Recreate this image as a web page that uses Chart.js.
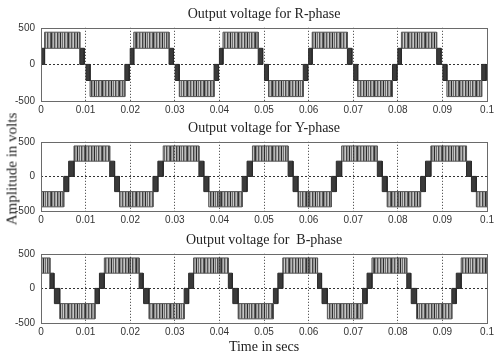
<!DOCTYPE html>
<html>
<head>
<meta charset="utf-8">
<script src="https://cdn.jsdelivr.net/npm/chart.js@4.4.0/dist/chart.umd.min.js"></script>
<style>
  body { margin: 0; background: #fff; }
  #wrap { position: relative; width: 497px; height: 356px; overflow: hidden; }
  #wrap canvas { position: absolute; left: 0; }
  #ylab {
    position: absolute; left: 12px; top: 169px;
    transform: translate(-50%, -50%) rotate(-90deg);
    font: 15px "Liberation Serif", serif; color: #222; white-space: nowrap;
  }
</style>
</head>
<body>
<div id="wrap">
  <canvas id="rChart" width="497" height="121" style="top:0"></canvas>
  <canvas id="yChart" width="497" height="117" style="top:114px"></canvas>
  <canvas id="bChart" width="497" height="130" style="top:226px"></canvas>
  <div id="ylab">Amplitude in volts</div>
</div>
<script>
const xTickLabels = ['0', '0.01', '0.02', '0.03', '0.04', '0.05', '0.06', '0.07', '0.08', '0.09', '0.1'];
const yTickLabels = ['-500', '0', '500'];

// the waveform repeats every 20 ms (50 Hz); one period is listed per phase
const periodStarts = [0, 0.02, 0.04, 0.06, 0.08];

// R-phase: segment start/end (s) and the two levels (V) switched between
const rStart = [0.0000, 0.0008, 0.0087, 0.0101, 0.0110, 0.0188];
const rEnd   = [0.0008, 0.0087, 0.0097, 0.0110, 0.0188, 0.0198];
const rLow   = [0, 220, 0, -220, -440, -220];
const rHigh  = [220, 440, 220, 0, -220, 0];

// Y-phase
const yStart = [0.0000, 0.0051, 0.0062, 0.0074, 0.0154, 0.0165, 0.0176];
const yEnd   = [0.0051, 0.0062, 0.0074, 0.0154, 0.0165, 0.0176, 0.0200];
const yLow   = [-440, -220, 0, 220, 0, -220, -440];
const yHigh  = [-220, 0, 220, 440, 220, 0, -220];

// B-phase
const bStart = [0.0000, 0.0020, 0.0030, 0.0042, 0.0121, 0.0131, 0.0142];
const bEnd   = [0.0020, 0.0029, 0.0042, 0.0121, 0.0131, 0.0142, 0.0200];
const bLow   = [220, 0, -220, -440, -220, 0, 220];
const bHigh  = [440, 220, 0, -220, 0, 220, 440];

// texture for the PWM bands (irregular vertical stripes)
const stripeShades = ['#333333', '#8a8a8a', '#b4b4b4', '#555555', '#9c9c9c', '#c6c6c6', '#444444', '#909090',
  '#a8a8a8', '#2c2c2c', '#b8b8b8', '#6e6e6e', '#cccccc', '#4c4c4c', '#969696', '#bababa', '#5e5e5e'];

function makeStripes() {
  const c = document.createElement('canvas');
  c.width = stripeShades.length;
  c.height = 4;
  const g = c.getContext('2d');
  stripeShades.forEach((col, i) => {
    g.fillStyle = col;
    g.fillRect(i, 0, 1, 4);
  });
  return g.createPattern(c, 'repeat');
}
const stripes = makeStripes();

function buildDatasets(start, end, low, high) {
  const sets = [];
  periodStarts.forEach(p => {
    start.forEach((s, i) => {
      const t0 = p + s, t1 = p + end[i];
      const lo = low[i], hi = high[i];
      const pwm = Math.min(Math.abs(lo), Math.abs(hi)) > 0;
      sets.push({
        data: [{x: t0, y: lo}, {x: t0, y: hi}, {x: t1, y: hi}, {x: t1, y: lo}, {x: t0, y: lo}],
        fill: 'shape',
        backgroundColor: pwm ? stripes : '#3a3a3a',
        borderColor: pwm ? '#555555' : '#2a2a2a',
        borderWidth: 1,
        pointRadius: 0,
        tension: 0
      });
    });
  });
  return sets;
}

const frame = {
  id: 'frame',
  afterDraw(chart) {
    const a = chart.chartArea, ctx = chart.ctx;
    ctx.save();
    ctx.strokeStyle = '#6a6a6a';
    ctx.lineWidth = 1;
    ctx.strokeRect(Math.round(a.left) + 0.5, Math.round(a.top) + 0.5,
      Math.round(a.right - a.left), Math.round(a.bottom - a.top));
    ctx.restore();
  }
};

const serif = 'Liberation Serif';
const sans = 'Liberation Sans';

function makeChart(id, title, datasets, xHeight, xTitle) {
  return new Chart(document.getElementById(id), {
    type: 'line',
    data: { datasets: datasets },
    options: {
      responsive: false,
      animation: false,
      layout: { padding: { right: 9 } },
      plugins: {
        legend: { display: false },
        tooltip: { enabled: false },
        title: {
          display: true,
          text: title,
          fullSize: false,
          color: '#222',
          font: { family: serif, size: 14, weight: 'normal' },
          padding: { top: 6, bottom: 5 }
        }
      },
      scales: {
        x: {
          type: 'linear',
          min: 0,
          max: 0.1,
          afterFit: s => { s.height = xHeight; },
          ticks: {
            stepSize: 0.01,
            autoSkip: false,
            maxRotation: 0,
            padding: 3,
            color: '#333',
            font: { family: sans, size: 10 },
            callback: (v, i) => xTickLabels[i]
          },
          grid: {
            drawTicks: false,
            z: 1,
            color: ctx => (ctx.tick && ctx.tick.value > 0.0001 && ctx.tick.value < 0.0999) ? '#333' : 'rgba(0,0,0,0)'
          },
          border: { display: false, dash: [1, 2] },
          title: {
            display: !!xTitle,
            text: xTitle || '',
            color: '#222',
            font: { family: serif, size: 14, weight: 'normal' },
            padding: 0
          }
        },
        y: {
          min: -500,
          max: 500,
          afterFit: s => { s.width = 41; },
          ticks: {
            stepSize: 500,
            padding: 6,
            color: '#333',
            font: { family: sans, size: 10 },
            callback: (v, i) => yTickLabels[i]
          },
          grid: {
            drawTicks: false,
            color: ctx => (ctx.tick && ctx.tick.value === 0) ? '#333' : 'rgba(0,0,0,0)'
          },
          border: { display: false, dash: [2, 2] }
        }
      }
    },
    plugins: [frame]
  });
}

makeChart('rChart', 'Output voltage for R-phase', buildDatasets(rStart, rEnd, rLow, rHigh), 20);
makeChart('yChart', 'Output voltage for Y-phase', buildDatasets(yStart, yEnd, yLow, yHigh), 20);
makeChart('bChart', 'Output voltage for  B-phase', buildDatasets(bStart, bEnd, bLow, bHigh), 33, 'Time in secs');
</script>
</body>
</html>
